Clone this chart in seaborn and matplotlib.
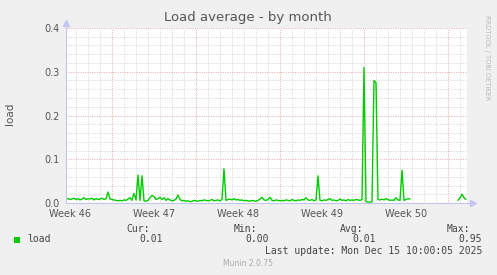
import numpy as np
import pandas as pd
import matplotlib
matplotlib.use("Agg")
import matplotlib.pyplot as plt
from matplotlib.patches import Rectangle
import seaborn as sns

# ---------------- data ----------------
# load average, 4-hour samples; day 0 = start of Week 47 (Monday)
start_day = -23 / 6
step_day = 1 / 6
load = [
    0.009, 0.010, 0.008, 0.009, 0.011, 0.008, 0.010, 0.007, 0.009, 0.012, 0.008, 0.010,
    0.009, 0.011, 0.007, 0.010, 0.008, 0.009, 0.011, 0.008, 0.010, 0.025, 0.009, 0.008,
    0.007, 0.006, 0.005, 0.006, 0.005, 0.007, 0.006, 0.009, 0.012, 0.006, 0.022, 0.007,
    0.064, 0.006, 0.062, 0.005, 0.004, 0.006, 0.012, 0.017, 0.015, 0.008, 0.010, 0.013,
    0.008, 0.012, 0.006, 0.010, 0.007, 0.005, 0.006, 0.009, 0.018, 0.008, 0.005, 0.006,
    0.004, 0.005, 0.003, 0.004, 0.006, 0.005, 0.004, 0.006, 0.005, 0.007, 0.006, 0.005,
    0.006, 0.008, 0.005, 0.006, 0.007, 0.005, 0.008, 0.078, 0.006, 0.008, 0.009, 0.007,
    0.010, 0.007, 0.008, 0.006, 0.007, 0.005, 0.006, 0.005, 0.004, 0.006, 0.005, 0.004,
    0.006, 0.009, 0.013, 0.007, 0.006, 0.008, 0.013, 0.006, 0.005, 0.007, 0.006, 0.005,
    0.006, 0.005, 0.007, 0.006, 0.005, 0.008, 0.006, 0.005, 0.007, 0.006, 0.008, 0.007,
    0.012, 0.007, 0.006, 0.008, 0.005, 0.007, 0.062, 0.006, 0.005, 0.007, 0.006, 0.008,
    0.010, 0.006, 0.007, 0.005, 0.006, 0.009, 0.006, 0.007, 0.005, 0.008, 0.006, 0.007,
    0.006, 0.008, 0.007, 0.006, 0.008, 0.310, 0.003, 0.002, 0.002, 0.003, 0.280, 0.275,
    0.008, 0.007, 0.009, 0.007, 0.010, 0.008, 0.006, 0.007, 0.006, 0.012, 0.007, 0.006,
    0.075, 0.006, 0.008, 0.010, 0.009,
] + [np.nan] * 23 + [
    0.006, 0.012, 0.020, 0.012, 0.008,
]

week_labels = ["Week 46", "Week 47", "Week 48", "Week 49", "Week 50"]
week_label_days = [-3.5, 3.5, 10.5, 17.5, 24.5]
week_start_days = [0, 7, 14, 21, 28]
y_ticks = [0.0, 0.1, 0.2, 0.3, 0.4]
y_tick_labels = ["0.0", "0.1", "0.2", "0.3", "0.4"]

title = "Load average - by month"
series_name = "load"
stat_headers = ["Cur:", "Min:", "Avg:", "Max:"]
stat_values = ["0.01", "0.00", "0.01", "0.95"]
last_update = "Last update: Mon Dec 15 10:00:05 2025"
footer = "Munin 2.0.75"
side_text = "RRDTOOL / TOBI OETIKER"

# ---------------- frame ----------------
days = start_day + step_day * np.arange(len(load))
vals = np.array(load, dtype=float)
segment = np.cumsum(np.r_[0, np.diff(np.isnan(vals).astype(int)) != 0])
df = pd.DataFrame({"day": days, "load": vals, "segment": segment}).dropna()

sns.set_style("white")
plt.rcParams["font.family"] = ["DejaVu Sans"]

W, H = 497, 275
fig = plt.figure(figsize=(W / 100, H / 100), dpi=100)
fig.patch.set_facecolor("#F0F0F0")

def px(x, y):
    return x / W, 1 - y / H

L, R, T, B = 66, 467, 28, 203
ax = fig.add_axes([L / W, 1 - B / H, (R - L) / W, (B - T) / H])
ax.set_facecolor("white")

x0, x1 = start_day, start_day + (R - L) / 12.0
ax.set_xlim(x0, x1)
ax.set_ylim(0, 0.4)

# grid
minor_col = "#D4D4D4"
major_col = "#EBA7A7"
for d in np.arange(np.ceil(x0), x1, 1.0):
    if int(round(d)) in week_start_days:
        continue
    ax.axvline(d, color=minor_col, lw=0.7, ls=(0, (1, 1.4)), zorder=1)
for d in week_start_days:
    ax.axvline(d, color=major_col, lw=0.7, ls=(0, (1, 1.4)), zorder=1.5)
for yv in np.arange(0.02, 0.4001, 0.02):
    if abs(yv * 10 - round(yv * 10)) < 1e-6:
        continue
    ax.axhline(yv, color=minor_col, lw=0.7, ls=(0, (1, 1.4)), zorder=1)
for yv in y_ticks[1:]:
    ax.axhline(yv, color=major_col, lw=0.7, ls=(0, (1, 1.4)), zorder=1.5)

sns.lineplot(data=df, x="day", y="load", units="segment", estimator=None,
             color="#00CC00", lw=1.0, ax=ax, zorder=3, legend=False)

# axes styling
for s in ["top", "right"]:
    ax.spines[s].set_visible(False)
axis_col = "#C4C6F2"
for s in ["left", "bottom"]:
    ax.spines[s].set_color(axis_col)
    ax.spines[s].set_linewidth(0.8)
    ax.spines[s].set_zorder(4)
ax.plot([1.0, 1.012], [0, 0], transform=ax.transAxes, color=axis_col, lw=0.8, clip_on=False)
ax.plot([1.015], [0], marker=">", ms=4, color=axis_col, transform=ax.transAxes, clip_on=False)
ax.plot([0, 0], [1.0, 1.02], transform=ax.transAxes, color=axis_col, lw=0.8, clip_on=False)
ax.plot([0], [1.03], marker="^", ms=4, color=axis_col, transform=ax.transAxes, clip_on=False)

ax.set_xticks(week_label_days)
ax.set_xticklabels(week_labels)
ax.set_yticks(y_ticks)
ax.set_yticklabels(y_tick_labels)
ax.tick_params(axis="both", length=0, labelsize=7, labelcolor="#555555")
ax.tick_params(axis="x", pad=4.0)
ax.tick_params(axis="y", pad=4.3)
ax.set_xlabel("")
ax.set_ylabel("")

# texts
tc = "#555555"
fig.text(*px(248, 18), title, ha="center", va="center", fontsize=9.5, color=tc)
fig.text(*px(10, 114), series_name, ha="center", va="center", rotation=90, fontsize=7.5, color=tc)
fig.text(*px(487, 58), side_text, ha="center", va="center", rotation=270, fontsize=4.8, color="#BBBBBB")

mono = "DejaVu Sans Mono"
lc = "#444444"
fig.patches.append(Rectangle(px(14, 243), 6 / W, 6 / H, transform=fig.transFigure,
                             facecolor="#00CC00", edgecolor="none"))
fig.text(*px(27, 239.5), series_name, ha="left", va="center", fontsize=7, family=mono, color=lc)
head_right = [150, 257, 363, 470]
val_right = [163, 269, 376, 482]
for h, v, hx, vx in zip(stat_headers, stat_values, head_right, val_right):
    fig.text(*px(hx, 228.5), h, ha="right", va="center", fontsize=7, family=mono, color=lc)
    fig.text(*px(vx, 239.5), v, ha="right", va="center", fontsize=7, family=mono, color=lc)
fig.text(*px(482, 251), last_update, ha="right", va="center", fontsize=7, family=mono, color=lc)
fig.text(*px(248, 264), footer, ha="center", va="center", fontsize=5.5, color="#AAAAAA")

fig.savefig("out.png", dpi=100, facecolor=fig.get_facecolor())
